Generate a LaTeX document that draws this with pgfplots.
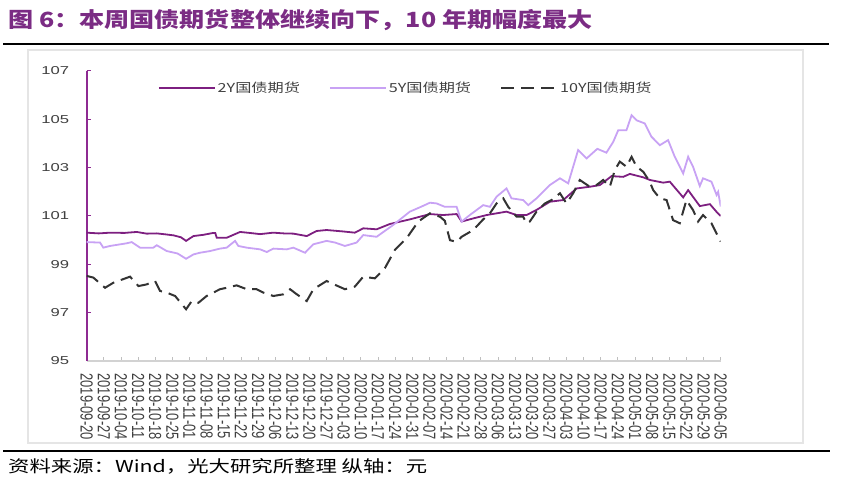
\documentclass[border=0pt]{standalone}
\usepackage{pgfplots}
\pgfplotsset{compat=1.18}
\usepackage{fontspec}
\setmainfont{Liberation Sans}
\newfontfamily\cjk{Noto Sans CJK SC}
\definecolor{ttl}{HTML}{7B2C84}
\definecolor{c2}{HTML}{7D1F80}
\definecolor{c5}{HTML}{C8A2F4}
\definecolor{c10}{HTML}{333333}
\definecolor{yax}{HTML}{8E2A92}
\definecolor{lbl}{HTML}{404040}
\newcommand\sx[1]{\scalebox{1}[1.35]{#1}}
\newcommand\sy[1]{\scalebox{1.45}[1]{#1}}
\newcommand\slg[1]{\scalebox{1.3}[1]{#1}}
\begin{document}
\begin{tikzpicture}
\path[use as bounding box] (0,0) rectangle (842bp,492bp);
\draw[black, line width=1.2bp] (3bp,448bp) -- (829bp,448bp);
\node[anchor=west, inner sep=0, text=ttl] at (8bp,472bp) {\scalebox{1.2}[1]{\cjk\bfseries\fontsize{21}{24}\selectfont 图 6：本周国债期货整体继续向下，10 年期幅度最大}};
\draw[gray!20, line width=1.5bp] (28bp,49bp) rectangle (803bp,442bp);
\begin{axis}[
  scale only axis, width=634bp, height=290bp,
  at={(86.7bp,131bp)}, anchor=south west,
  xmin=0, xmax=37, ymin=95, ymax=107,
  axis x line*=bottom, axis y line*=left, separate axis lines,
  x axis line style={draw=gray!35, line width=1.2bp, -},
  y axis line style={draw=yax, line width=1.6bp, -},
  xtick={0,...,37}, ytick={95,97,...,107},
  tick align=inside, major tick length=4bp,
  x tick style={draw=gray!50, line width=0.8bp},
  y tick style={draw=yax, line width=1bp},
  yticklabels={\sy{95},\sy{97},\sy{99},\sy{101},\sy{103},\sy{105},\sy{107}},
  yticklabel style={font=\fontsize{11.5}{12}\selectfont, text=lbl, xshift=-14bp},
  xticklabels={\sx{2019-09-20},\sx{2019-09-27},\sx{2019-10-04},\sx{2019-10-11},\sx{2019-10-18},\sx{2019-10-25},\sx{2019-11-01},\sx{2019-11-08},\sx{2019-11-15},\sx{2019-11-22},\sx{2019-11-29},\sx{2019-12-06},\sx{2019-12-13},\sx{2019-12-20},\sx{2019-12-27},\sx{2020-01-03},\sx{2020-01-10},\sx{2020-01-17},\sx{2020-01-24},\sx{2020-01-31},\sx{2020-02-07},\sx{2020-02-14},\sx{2020-02-21},\sx{2020-02-28},\sx{2020-03-06},\sx{2020-03-13},\sx{2020-03-20},\sx{2020-03-27},\sx{2020-04-03},\sx{2020-04-10},\sx{2020-04-17},\sx{2020-04-24},\sx{2020-05-01},\sx{2020-05-08},\sx{2020-05-15},\sx{2020-05-22},\sx{2020-05-29},\sx{2020-06-05}},
  xticklabel style={rotate=-90, anchor=west, font=\fontsize{13}{13}\selectfont, text=lbl},
  xticklabel shift=9bp,
  legend columns=3,
  legend style={draw=none, fill=none, inner sep=0pt, at={(0.112,0.941)}, anchor=west,
    font=\cjk\fontsize{12.5}{13}\selectfont, text=lbl,
    /tikz/every even column/.append style={column sep=27bp}},
  legend image code/.code={\draw[#1] (0bp,0bp) -- (56bp,0bp);},
  legend cell align=left,
]
\addplot[c2, line width=1.8bp] coordinates {
(0,100.31)(0.7,100.28)(1.36,100.31)(2.2,100.3)(2.92,100.34)(3.5,100.27)(4.09,100.28)(4.6,100.24)(5.06,100.2)(5.5,100.12)(5.8,99.97)(6.23,100.17)(6.8,100.22)(7.39,100.3)(7.5,100.3)(7.59,100.1)(8.17,100.1)(8.95,100.34)(9.5,100.3)(10.12,100.25)(10.89,100.31)(11.5,100.28)(12.06,100.27)(12.84,100.17)(13.42,100.38)(14.0,100.42)(14.97,100.36)(15.65,100.31)(16.14,100.49)(16.92,100.45)(17.70,100.67)(18.86,100.86)(20.03,101.08)(20.8,101.04)(21.59,101.08)(21.88,100.77)(22.56,100.9)(23.34,101.04)(24.50,101.18)(25.09,101.04)(25.67,101.04)(26.25,101.25)(27.03,101.59)(27.81,101.66)(28.59,102.14)(29.36,102.21)(29.95,102.28)(30.63,102.65)(31.31,102.62)(31.70,102.74)(32.48,102.6)(32.87,102.49)(33.64,102.38)(34.03,102.42)(34.81,101.77)(35.10,102.07)(35.78,101.41)(36.37,101.49)(36.76,101.17)(37.0,101.0)
};
\addlegendentry{\slg{2Y国债期货}}
\addplot[c5, line width=1.8bp] coordinates {
(0,99.92)(0.78,99.9)(0.97,99.69)(1.36,99.76)(2.33,99.87)(2.63,99.92)(3.11,99.69)(3.89,99.69)(4.09,99.79)(4.67,99.55)(5.3,99.45)(5.80,99.23)(6.23,99.41)(6.61,99.48)(7.2,99.55)(7.78,99.65)(8.17,99.69)(8.66,99.97)(8.85,99.76)(9.34,99.69)(10.12,99.62)(10.51,99.51)(10.89,99.65)(11.67,99.62)(12.06,99.69)(12.74,99.48)(13.23,99.83)(14.0,99.97)(14.5,99.9)(15.07,99.76)(15.75,99.9)(16.14,100.21)(16.92,100.14)(17.89,100.63)(18.86,101.18)(19.54,101.39)(20.03,101.55)(20.42,101.52)(20.90,101.38)(21.59,101.38)(21.68,101.18)(21.88,100.77)(22.36,101.04)(23.14,101.45)(23.53,101.38)(23.92,101.8)(24.50,102.14)(24.79,101.73)(25.47,101.66)(25.77,101.45)(26.25,101.73)(27.03,102.28)(27.62,102.56)(28.1,102.35)(28.68,103.73)(29.17,103.38)(29.8,103.78)(30.33,103.62)(30.73,104.07)(31.02,104.55)(31.5,104.55)(31.8,105.17)(32.09,104.96)(32.57,104.83)(32.96,104.28)(33.45,103.93)(33.93,104.14)(34.32,103.45)(34.81,102.76)(35.10,103.45)(35.39,103.03)(35.78,102.24)(35.97,102.56)(36.46,102.42)(36.76,101.87)(36.85,102.0)(37.0,101.39)
};
\addlegendentry{\slg{5Y国债期货}}
\addplot[c10, line width=2bp, dash pattern=on 13bp off 7bp] coordinates {
(0,98.52)(0.39,98.45)(1.07,98.03)(1.56,98.24)(2.53,98.49)(3.02,98.1)(3.50,98.17)(3.99,98.31)(4.28,97.9)(4.67,97.83)(5.16,97.69)(5.80,97.14)(6.13,97.48)(6.52,97.41)(7.0,97.69)(7.39,97.83)(7.78,97.97)(8.17,98.03)(8.75,98.13)(9.34,97.97)(9.92,97.97)(10.31,97.83)(10.89,97.69)(11.48,97.76)(11.87,97.97)(12.26,97.76)(12.84,97.48)(13.23,97.97)(14.0,98.31)(14.5,98.15)(15.07,97.97)(15.65,98.08)(16.14,98.49)(16.82,98.42)(17.4,98.84)(17.99,99.6)(18.67,100.08)(19.35,100.77)(20.03,101.11)(20.62,100.97)(20.90,100.8)(21.2,100.0)(21.59,99.93)(21.88,100.14)(22.56,100.42)(23.14,100.86)(23.53,101.11)(23.92,101.52)(24.31,101.73)(24.6,101.38)(25.09,100.97)(25.47,100.97)(25.67,100.7)(25.86,100.77)(26.25,101.18)(26.74,101.52)(27.13,101.66)(27.62,101.94)(28.0,101.52)(28.39,101.94)(28.78,102.49)(29.36,102.21)(29.75,102.28)(30.14,102.49)(30.53,102.21)(30.82,102.9)(31.11,103.25)(31.5,103.04)(31.8,103.45)(32.09,103.04)(32.48,102.83)(32.86,102.42)(33.06,102.07)(33.45,101.73)(33.84,101.66)(34.22,100.83)(34.61,100.7)(35.0,101.66)(35.39,101.24)(35.68,100.77)(35.97,101.04)(36.46,100.7)(37.0,99.94)
};
\addlegendentry{\slg{10Y国债期货}}
\end{axis}
\draw[black, line width=1.5bp] (3bp,41bp) -- (830bp,41bp);
\node[anchor=west, inner sep=0] at (8bp,26bp) {\scalebox{1.3}[1]{\cjk\fontsize{16.5}{18}\selectfont 资料来源：Wind，光大研究所整理\ 纵轴：元}};
\end{tikzpicture}
\end{document}
